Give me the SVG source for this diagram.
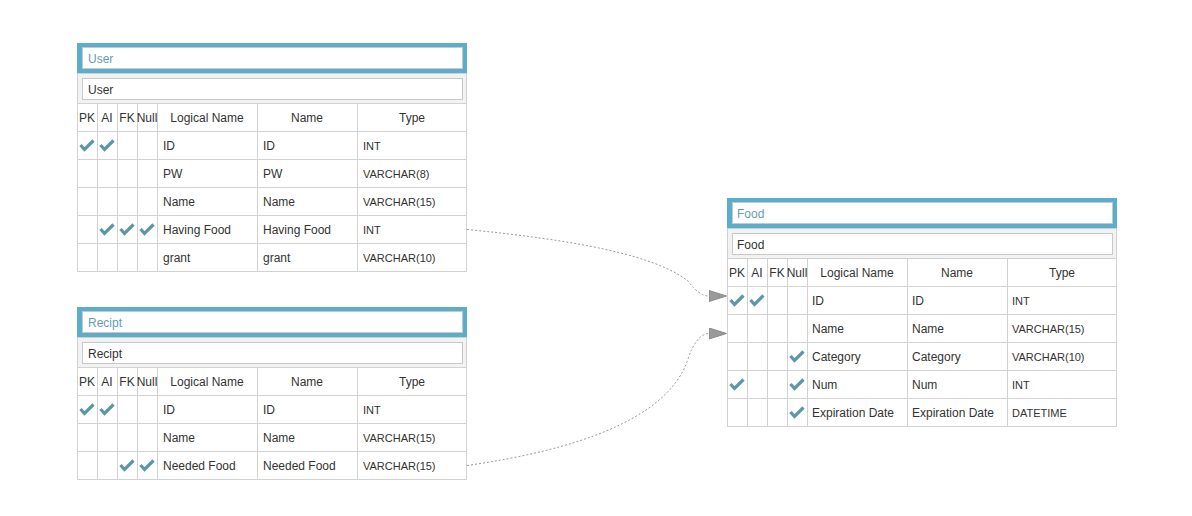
<svg xmlns="http://www.w3.org/2000/svg" xmlns:xlink="http://www.w3.org/1999/xlink" width="1192" height="516" viewBox="0 0 1192 516">
<style>
.band{fill:#5aaecb}
.box{fill:#fff;stroke:#c8c8c8;stroke-width:1}
.sub{fill:#f2f2f2;stroke:#cfcfcf;stroke-width:1}
.grid{fill:#fff;stroke:#d2d2d2;stroke-width:1}
.ln{stroke:#d2d2d2;stroke-width:1}
text{font-family:"Liberation Sans",Arial,sans-serif;font-size:12px;fill:#333}
.title{fill:#5f9fb1}
.hd{text-anchor:middle}
.ty{font-size:11px}
.chk{fill:none;stroke:#5b98a6;stroke-width:3.2;stroke-linejoin:miter}
.conn{fill:none;stroke:#9a9a9a;stroke-width:1;stroke-dasharray:2,2}
.ah{fill:#999;stroke:#8a8a8a;stroke-width:1}
</style>
<defs>
<path id="chk" class="chk" d="M3.5,14 L7.5,18.5 L16.5,9.5"/>
<marker id="arr" markerUnits="userSpaceOnUse" viewBox="0 0 19 12" refX="0.5" refY="6" markerWidth="19" markerHeight="12" orient="auto">
<polygon class="ah" points="0.5,0.5 18,6 0.5,11.5"/>
</marker>
</defs>

<g id="connectors">
<path class="conn" d="M467,229.5 C575,240 655,255 688,281 Q699,296 709,296" marker-end="url(#arr)"/>
<path class="conn" d="M467,465.5 C575,450 665,420 687,362 Q696,333.5 709,333.5" marker-end="url(#arr)"/>
</g>

<g id="table-user" transform="translate(77,43)">
<rect class="band" x="0" y="0" width="390" height="30"/>
<rect class="box" x="5.5" y="4.5" width="380" height="21"/>
<text class="title" x="11" y="19.5">User</text>
<rect class="sub" x="0.5" y="30.5" width="389" height="30"/>
<rect class="box" x="5.5" y="35.5" width="380" height="21"/>
<text x="11" y="51">User</text>
<rect class="grid" x="0.5" y="60.5" width="389" height="168"/>
<path class="ln" d="M0,88.5H390M0,116.5H390M0,144.5H390M0,172.5H390M0,200.5H390M20.5,60V229M40.5,60V229M60.5,60V229M80.5,60V229M180.5,60V229M280.5,60V229"/>
<text class="hd" x="10" y="78.7">PK</text>
<text class="hd" x="30" y="78.7">AI</text>
<text class="hd" x="50" y="78.7">FK</text>
<text class="hd" x="70" y="78.7">Null</text>
<text class="hd" x="130" y="78.7">Logical Name</text>
<text class="hd" x="230" y="78.7">Name</text>
<text class="hd" x="335" y="78.7">Type</text>
<text x="86" y="107">ID</text><text x="186" y="107">ID</text><text class="ty" x="286" y="106.5">INT</text>
<text x="86" y="135">PW</text><text x="186" y="135">PW</text><text class="ty" x="286" y="134.5">VARCHAR(8)</text>
<text x="86" y="163">Name</text><text x="186" y="163">Name</text><text class="ty" x="286" y="162.5">VARCHAR(15)</text>
<text x="86" y="191">Having Food</text><text x="186" y="191">Having Food</text><text class="ty" x="286" y="190.5">INT</text>
<text x="86" y="219">grant</text><text x="186" y="219">grant</text><text class="ty" x="286" y="218.5">VARCHAR(10)</text>
<use xlink:href="#chk" x="0" y="88"/><use xlink:href="#chk" x="20" y="88"/>
<use xlink:href="#chk" x="20" y="172"/><use xlink:href="#chk" x="40" y="172"/><use xlink:href="#chk" x="60" y="172"/>
</g>

<g id="table-recipt" transform="translate(77,307)">
<rect class="band" x="0" y="0" width="390" height="30"/>
<rect class="box" x="5.5" y="4.5" width="380" height="21"/>
<text class="title" x="11" y="19.5">Recipt</text>
<rect class="sub" x="0.5" y="30.5" width="389" height="30"/>
<rect class="box" x="5.5" y="35.5" width="380" height="21"/>
<text x="11" y="51">Recipt</text>
<rect class="grid" x="0.5" y="60.5" width="389" height="112"/>
<path class="ln" d="M0,88.5H390M0,116.5H390M0,144.5H390M20.5,60V173M40.5,60V173M60.5,60V173M80.5,60V173M180.5,60V173M280.5,60V173"/>
<text class="hd" x="10" y="78.7">PK</text>
<text class="hd" x="30" y="78.7">AI</text>
<text class="hd" x="50" y="78.7">FK</text>
<text class="hd" x="70" y="78.7">Null</text>
<text class="hd" x="130" y="78.7">Logical Name</text>
<text class="hd" x="230" y="78.7">Name</text>
<text class="hd" x="335" y="78.7">Type</text>
<text x="86" y="107">ID</text><text x="186" y="107">ID</text><text class="ty" x="286" y="106.5">INT</text>
<text x="86" y="135">Name</text><text x="186" y="135">Name</text><text class="ty" x="286" y="134.5">VARCHAR(15)</text>
<text x="86" y="163">Needed Food</text><text x="186" y="163">Needed Food</text><text class="ty" x="286" y="162.5">VARCHAR(15)</text>
<use xlink:href="#chk" x="0" y="88"/><use xlink:href="#chk" x="20" y="88"/>
<use xlink:href="#chk" x="40" y="144"/><use xlink:href="#chk" x="60" y="144"/>
</g>

<g id="table-food" transform="translate(727,198)">
<rect class="band" x="0" y="0" width="390" height="30"/>
<rect class="box" x="5.5" y="4.5" width="380" height="21"/>
<text class="title" x="10" y="19.5">Food</text>
<rect class="sub" x="0.5" y="30.5" width="389" height="30"/>
<rect class="box" x="5.5" y="35.5" width="380" height="21"/>
<text x="10" y="51">Food</text>
<rect class="grid" x="0.5" y="60.5" width="389" height="168"/>
<path class="ln" d="M0,88.5H390M0,116.5H390M0,144.5H390M0,172.5H390M0,200.5H390M20.5,60V229M40.5,60V229M60.5,60V229M80.5,60V229M180.5,60V229M280.5,60V229"/>
<text class="hd" x="10" y="78.7">PK</text>
<text class="hd" x="30" y="78.7">AI</text>
<text class="hd" x="50" y="78.7">FK</text>
<text class="hd" x="70" y="78.7">Null</text>
<text class="hd" x="130" y="78.7">Logical Name</text>
<text class="hd" x="230" y="78.7">Name</text>
<text class="hd" x="335" y="78.7">Type</text>
<text x="85" y="107">ID</text><text x="185" y="107">ID</text><text class="ty" x="285" y="106.5">INT</text>
<text x="85" y="135">Name</text><text x="185" y="135">Name</text><text class="ty" x="285" y="134.5">VARCHAR(15)</text>
<text x="85" y="163">Category</text><text x="185" y="163">Category</text><text class="ty" x="285" y="162.5">VARCHAR(10)</text>
<text x="85" y="191">Num</text><text x="185" y="191">Num</text><text class="ty" x="285" y="190.5">INT</text>
<text x="85" y="219">Expiration Date</text><text x="185" y="219">Expiration Date</text><text class="ty" x="285" y="218.5">DATETIME</text>
<use xlink:href="#chk" x="0" y="88"/><use xlink:href="#chk" x="20" y="88"/>
<use xlink:href="#chk" x="60" y="144"/>
<use xlink:href="#chk" x="0" y="172"/><use xlink:href="#chk" x="60" y="172"/>
<use xlink:href="#chk" x="60" y="200"/>
</g>
</svg>
